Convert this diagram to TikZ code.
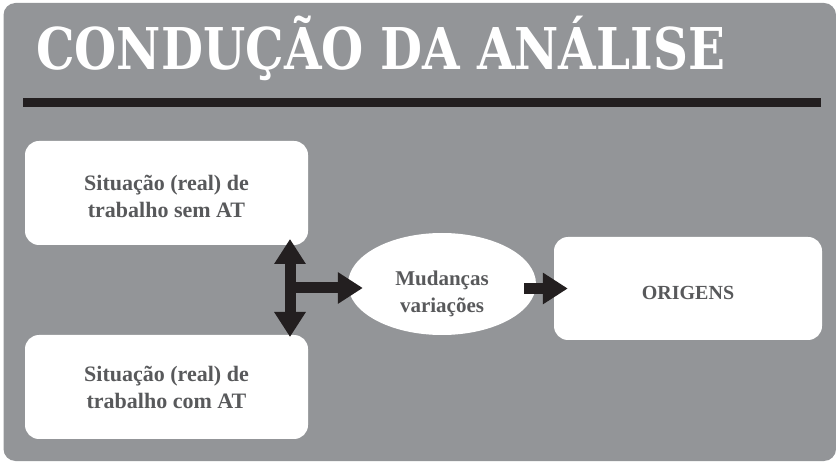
\documentclass[tikz,border=0pt]{standalone}
\usepackage{fontspec}
\usepackage{graphicx}
\usetikzlibrary{arrows.meta,shapes.geometric,calc}
\setmainfont{Liberation Serif}
\newfontfamily\titlefont{DejaVu Serif}
\definecolor{bggray}{HTML}{939598}
\definecolor{txtgray}{HTML}{58595B}
\definecolor{inkblack}{HTML}{231F20}
\newsavebox\titlebox
\newlength\titlewd
\begin{document}
\sbox\titlebox{\color{white}\titlefont\bfseries\fontsize{57.6pt}{60pt}\selectfont CONDUÇÃO DA ANÁLISE}%
\setlength\titlewd{\wd\titlebox}%
\pgfmathsetmacro\tscale{689/\titlewd}%
\begin{tikzpicture}[x=1pt,y=-1pt,
  box/.style={rectangle, rounded corners=14pt, fill=white, inner sep=0pt},
  oval/.style={ellipse, fill=white, inner sep=0pt},
  txt/.style={text=txtgray, font=\bfseries\fontsize{22pt}{27pt}\selectfont, align=center, inner sep=0pt},
  bigarrow/.style={draw=inkblack, line width=11pt, -{Triangle[width=30pt,length=25pt]}},
  dblarrow/.style={draw=inkblack, line width=11pt, {Triangle[width=30pt,length=25pt]}-{Triangle[width=30pt,length=25pt]}}
]
\useasboundingbox (0,0) rectangle (836,462);
\fill[bggray, rounded corners=12pt] (3.5,3) rectangle (836,461);
\node[anchor=base west, inner sep=0pt, text=white] (title) at (36,70) {\scalebox{\tscale}[1]{\usebox\titlebox}};
\fill[inkblack] (23,98) rectangle (821,107);

\node[box, minimum width=283pt, minimum height=104pt,
  label={[txt, yshift=-3pt]center:Situação (real) de\\trabalho sem AT}] (b1) at (166.5,193) {};
\node[box, minimum width=283pt, minimum height=104pt,
  label={[txt]center:Situação (real) de\\trabalho com AT}] (b2) at (166.5,387) {};
\node[oval, minimum width=188pt, minimum height=102pt,
  label={[txt, font=\bfseries\fontsize{21pt}{27pt}\selectfont, yshift=-10pt]center:Mudanças\\variações}] (mud) at (442,284) {};
\node[box, minimum width=268pt, minimum height=103pt,
  label={[txt, font=\bfseries\fontsize{20pt}{24pt}\selectfont, yshift=-4pt]center:ORIGENS}] (orig) at (688,288.5) {};

\coordinate (vt) at (290,239);
\coordinate (vb) at (290,337);
\coordinate (hj) at (290,288);
\draw[dblarrow] (vt) -- (vb);
\draw[bigarrow] (hj) -- ($(hj -| mud.west)+(15,0)$);
\draw[bigarrow] ($(mud.east |- orig.west)+(-12,0)$) -- ($(orig.west)+(14,0)$);
\end{tikzpicture}
\end{document}
